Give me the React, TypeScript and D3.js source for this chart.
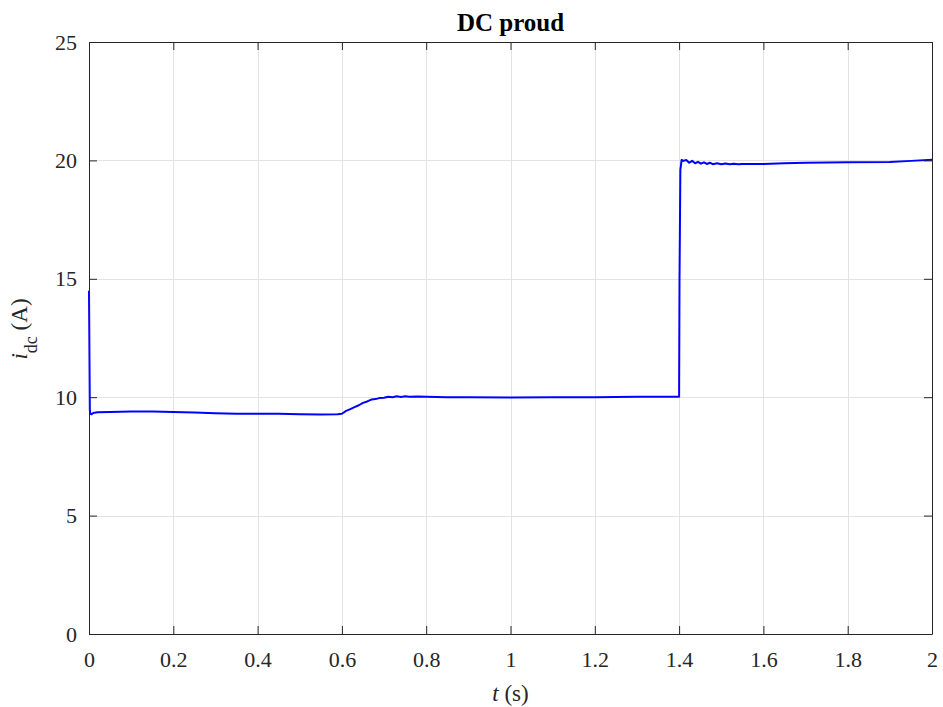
import React, { useRef, useEffect } from 'react';
import * as d3 from 'd3';

// current i_dc (A) against time t (s)
const timeS = [
  0, 0.001, 0.002, 0.003, 0.006, 0.01, 0.02, 0.05, 0.1, 0.15, 0.2, 0.25, 0.3, 0.35, 0.4, 0.45, 0.5, 0.55, 0.59,
  0.6, 0.61, 0.62, 0.63, 0.64, 0.65, 0.66, 0.67, 0.68, 0.69, 0.7, 0.71, 0.72, 0.73, 0.74, 0.75, 0.76, 0.78, 0.8,
  0.85, 0.9, 1.0, 1.1, 1.2, 1.3, 1.39, 1.4, 1.401, 1.403, 1.406, 1.41, 1.417, 1.424, 1.431, 1.438, 1.445, 1.452,
  1.459, 1.466, 1.473, 1.48, 1.49, 1.5, 1.51, 1.52, 1.53, 1.54, 1.55, 1.6, 1.65, 1.7, 1.8, 1.9, 1.95, 2.0,
];
const currentA = [
  14.5, 12.0, 9.45, 9.3, 9.28, 9.33, 9.36, 9.38, 9.4, 9.4, 9.38, 9.35, 9.32, 9.3, 9.3, 9.3, 9.28, 9.27, 9.28,
  9.3, 9.42, 9.5, 9.58, 9.66, 9.76, 9.82, 9.9, 9.92, 9.97, 9.98, 10.02, 10.0, 10.04, 10.01, 10.04, 10.02, 10.03, 10.02,
  10.0, 10.0, 9.99, 10.0, 10.0, 10.02, 10.02, 10.02, 15.0, 19.6, 20.02, 19.98, 20.02, 19.9, 19.98, 19.88, 19.94, 19.86,
  19.92, 19.85, 19.9, 19.84, 19.88, 19.84, 19.87, 19.84, 19.86, 19.84, 19.85, 19.85, 19.88, 19.9, 19.92, 19.93, 19.98, 20.03,
];
const xTicks = [0, 0.2, 0.4, 0.6, 0.8, 1, 1.2, 1.4, 1.6, 1.8, 2];
const yTicks = [0, 5, 10, 15, 20, 25];

const W = 943;
const H = 707;
const m = { left: 89, top: 42, right: 11, bottom: 73 };
const FONT = '"Liberation Serif", "Times New Roman", serif';

export default function App() {
  const svgRef = useRef<SVGSVGElement>(null);

  useEffect(() => {
    const svg = d3.select(svgRef.current);
    svg.selectAll('*').remove();

    const x = d3.scaleLinear().domain([0, 2]).range([m.left, W - m.right]);
    const y = d3.scaleLinear().domain([0, 25]).range([H - m.bottom, m.top]);

    svg.append('rect').attr('width', W).attr('height', H).attr('fill', '#fff');

    // grid
    const grid = svg.append('g').attr('stroke', '#e3e3e3').attr('stroke-width', 1);
    grid.selectAll('line.gx').data(xTicks).enter().append('line')
      .attr('x1', d => Math.round(x(d)) + 0.5).attr('x2', d => Math.round(x(d)) + 0.5)
      .attr('y1', y(0)).attr('y2', y(25));
    grid.selectAll('line.gy').data(yTicks).enter().append('line')
      .attr('y1', d => Math.round(y(d)) + 0.5).attr('y2', d => Math.round(y(d)) + 0.5)
      .attr('x1', x(0)).attr('x2', x(2));

    // data line
    const pts = timeS.map((t, i) => [t, currentA[i]] as [number, number]);
    svg.append('path')
      .attr('d', d3.line().x(d => x(d[0])).y(d => y(d[1]))(pts))
      .attr('fill', 'none')
      .attr('stroke', '#0000ff')
      .attr('stroke-width', 2)
      .attr('stroke-linejoin', 'round');

    // axes (inward ticks, boxed)
    const tickLen = 8;
    const axisColor = '#262626';
    const xAxis = d3.axisBottom(x).tickValues(xTicks).tickSizeInner(-tickLen).tickSizeOuter(0)
      .tickPadding(17).tickFormat(d => String(d));
    const yAxis = d3.axisLeft(y).tickValues(yTicks).tickSizeInner(-tickLen).tickSizeOuter(0)
      .tickPadding(12).tickFormat(d => String(d));
    const xTop = d3.axisTop(x).tickValues(xTicks).tickSizeInner(-tickLen).tickSizeOuter(0).tickFormat(() => '');
    const yRight = d3.axisRight(y).tickValues(yTicks).tickSizeInner(-tickLen).tickSizeOuter(0).tickFormat(() => '');

    const styleAxis = (g: any) => {
      g.selectAll('path').attr('stroke', axisColor);
      g.selectAll('line').attr('stroke', axisColor);
      g.selectAll('text').attr('fill', axisColor).style('font-family', FONT).style('font-size', '22px');
    };
    svg.append('g').attr('transform', `translate(0,${y(0)})`).call(xAxis).call(styleAxis);
    svg.append('g').attr('transform', `translate(${x(0)},0)`).call(yAxis).call(styleAxis);
    svg.append('g').attr('transform', `translate(0,${y(25)})`).call(xTop).call(styleAxis);
    svg.append('g').attr('transform', `translate(${x(2)},0)`).call(yRight).call(styleAxis);

    // title
    svg.append('text')
      .attr('x', (x(0) + x(2)) / 2).attr('y', 31)
      .attr('text-anchor', 'middle')
      .style('font-family', FONT).style('font-size', '25px').style('font-weight', 'bold')
      .attr('fill', '#000')
      .text('DC proud');

    // x label
    const xl = svg.append('text')
      .attr('x', (x(0) + x(2)) / 2).attr('y', 701)
      .attr('text-anchor', 'middle')
      .style('font-family', FONT).style('font-size', '23px')
      .attr('fill', axisColor);
    xl.append('tspan').style('font-style', 'italic').text('t');
    xl.append('tspan').text(' (s)');

    // y label
    const yl = svg.append('text')
      .attr('transform', `translate(27,329) rotate(-90)`)
      .attr('text-anchor', 'middle')
      .style('font-family', FONT).style('font-size', '23px')
      .attr('fill', axisColor);
    yl.append('tspan').style('font-style', 'italic').text('i');
    yl.append('tspan').attr('dy', 10).style('font-size', '18px').text('dc');
    yl.append('tspan').attr('dy', -10).text(' (A)');
  }, []);

  return (
    <svg ref={svgRef} width={W} height={H}
      style={{ position: 'absolute', left: 0, top: 0, display: 'block' }} />
  );
}
